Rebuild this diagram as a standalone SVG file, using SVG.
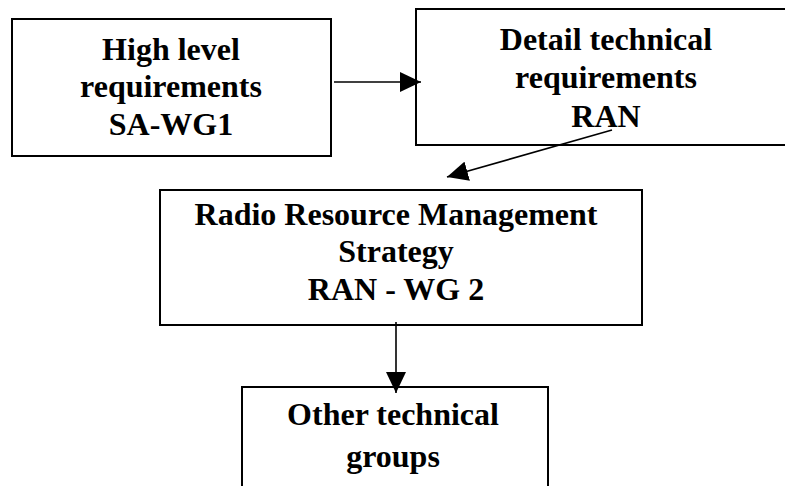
<svg xmlns="http://www.w3.org/2000/svg" width="785" height="486" viewBox="0 0 785 486">
<style>
.box{fill:#fff;stroke:#000;stroke-width:2}
.t{font-family:"Liberation Serif","Times New Roman",serif;font-weight:bold;font-size:32px;fill:#000;text-anchor:middle}
.c{stroke:#000;stroke-width:1.6;fill:none}
</style>
<defs>
<marker id="ah" markerUnits="userSpaceOnUse" markerWidth="22" markerHeight="20" refX="21" refY="10" orient="auto" viewBox="0 0 22 20">
<path d="M0,0 L21,10 L0,20 z" fill="#000"/>
</marker>
</defs>
<rect width="785" height="486" fill="#fff"/>
<g id="n1">
<rect class="box" x="12" y="19" width="319" height="137"/>
<text class="t" x="171" y="60">High level</text>
<text class="t" x="171" y="97">requirements</text>
<text class="t" x="171" y="135">SA-WG1</text>
</g>
<g id="n2">
<rect class="box" x="416" y="9" width="380" height="136"/>
<text class="t" x="606" y="50">Detail technical</text>
<text class="t" x="606" y="88">requirements</text>
<text class="t" x="606" y="127">RAN</text>
</g>
<g id="n3">
<rect class="box" x="160" y="190" width="482" height="135"/>
<text class="t" x="396" y="225">Radio Resource Management</text>
<text class="t" x="396" y="262">Strategy</text>
<text class="t" x="396" y="300">RAN - WG 2</text>
</g>
<g id="n4">
<rect class="box" x="242" y="387" width="306" height="120"/>
<text class="t" x="393" y="425">Other technical</text>
<text class="t" x="393" y="467">groups</text>
</g>
<g id="connectors">
<line class="c" x1="334" y1="82" x2="421" y2="82" marker-end="url(#ah)"/>
<line class="c" x1="612" y1="130" x2="447" y2="177" marker-end="url(#ah)"/>
<line class="c" x1="396" y1="322" x2="396" y2="393" marker-end="url(#ah)"/>
</g>
</svg>
